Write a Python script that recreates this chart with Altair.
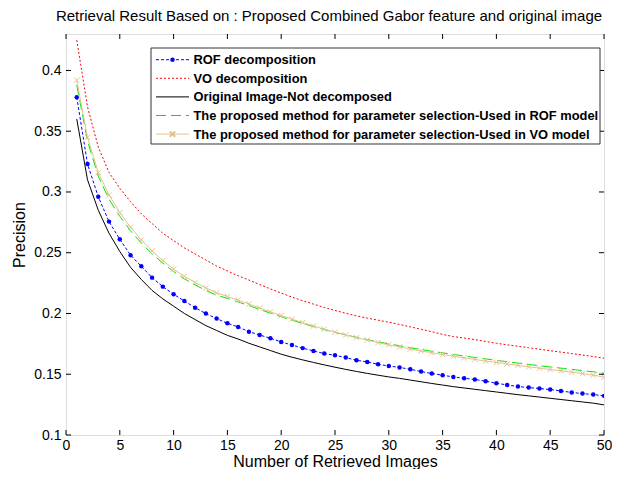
import altair as alt
import pandas as pd

# ---------------- data ----------------
n_images = list(range(1, 51))

rof = [0.378, 0.323, 0.296, 0.2756, 0.261, 0.248, 0.2388, 0.2295, 0.2221, 0.2158,
       0.2103, 0.2048, 0.1999, 0.1958, 0.1919, 0.1889, 0.1850, 0.1823, 0.1796, 0.1766,
       0.1740, 0.1715, 0.1692, 0.1670, 0.1656, 0.1637, 0.1615, 0.1601, 0.1582, 0.1568,
       0.1556, 0.1541, 0.1522, 0.1506, 0.1492, 0.1478, 0.1467, 0.1457, 0.1443, 0.1426,
       0.1412, 0.1399, 0.1390, 0.1383, 0.1374, 0.1363, 0.1350, 0.1341, 0.1333, 0.1322]

vo = [0.425, 0.370, 0.337, 0.316, 0.303, 0.292, 0.282, 0.274, 0.266, 0.260,
      0.254, 0.249, 0.244, 0.239, 0.235, 0.231, 0.2275, 0.2238, 0.2202, 0.2168,
      0.2135, 0.2105, 0.2077, 0.2050, 0.2025, 0.2002, 0.1980, 0.1962, 0.1945, 0.1928,
      0.1910, 0.1890, 0.1870, 0.1850, 0.1828, 0.1810, 0.1798, 0.1785, 0.1770, 0.1755,
      0.1742, 0.1730, 0.1718, 0.1706, 0.1694, 0.1682, 0.1670, 0.1658, 0.1646, 0.1632]

original = [0.360, 0.310, 0.285, 0.266, 0.251, 0.238, 0.228, 0.219, 0.212, 0.206,
            0.200, 0.195, 0.190, 0.186, 0.182, 0.179, 0.1755, 0.1725, 0.1695, 0.1665,
            0.1640, 0.1618, 0.1597, 0.1577, 0.1558, 0.1540, 0.1523, 0.1507, 0.1492, 0.1478,
            0.1466, 0.1452, 0.1438, 0.1424, 0.1411, 0.1398, 0.1387, 0.1376, 0.1365, 0.1354,
            0.1343, 0.1332, 0.1322, 0.1312, 0.1302, 0.1292, 0.1282, 0.1272, 0.1262, 0.1248]

proposed_rof = [0.388, 0.342, 0.313, 0.294, 0.280, 0.268, 0.258, 0.249, 0.2415, 0.2345,
                0.2285, 0.2235, 0.2190, 0.2150, 0.2125, 0.2095, 0.2065, 0.2033, 0.2003, 0.1973,
                0.1945, 0.1918, 0.1892, 0.1868, 0.1845, 0.1824, 0.1804, 0.1785, 0.1767, 0.1750,
                0.1734, 0.1718, 0.1703, 0.1689, 0.1676, 0.1663, 0.1650, 0.1638, 0.1626, 0.1614,
                0.1603, 0.1592, 0.1581, 0.1570, 0.1560, 0.1550, 0.1540, 0.1530, 0.1520, 0.1508]

proposed_vo = [0.392, 0.345, 0.316, 0.2975, 0.283, 0.271, 0.2605, 0.2515, 0.2435, 0.2365,
               0.2305, 0.2255, 0.2210, 0.2170, 0.2140, 0.2110, 0.2078, 0.2045, 0.2013, 0.1983,
               0.1953, 0.1925, 0.1897, 0.1871, 0.1846, 0.1823, 0.1801, 0.1781, 0.1761, 0.1742,
               0.1725, 0.1708, 0.1692, 0.1677, 0.1662, 0.1648, 0.1635, 0.1622, 0.1609, 0.1597,
               0.1585, 0.1573, 0.1561, 0.1550, 0.1539, 0.1528, 0.1517, 0.1505, 0.1493, 0.1475]

series_names = [
    "ROF decomposition",
    "VO decomposition",
    "Original Image-Not decomposed",
    "The proposed method for parameter selection-Used in ROF model",
    "The proposed method for parameter selection-Used in VO model",
]

x_ticks = [0, 5, 10, 15, 20, 25, 30, 35, 40, 45, 50]
y_ticks = [0.1, 0.15, 0.2, 0.25, 0.3, 0.35, 0.4]

title_text = "Retrieval Result Based on : Proposed Combined Gabor feature and original image"
x_title = "Number of Retrieved Images"
y_title = "Precision"

# ---------------- styling ----------------
W, H = 538, 401
FONT = "Liberation Sans"
x_scale = alt.Scale(domain=[0, 50], nice=False, zero=False)
y_scale = alt.Scale(domain=[0.1, 0.43], nice=False, zero=False)

x_axis = alt.Axis(values=x_ticks, ticks=False, domain=False, grid=False,
                  labelFontSize=14, labelFont=FONT, labelColor="#000",
                  labelPadding=3, labelFlush=False, labelOverlap=False,
                  title=x_title, titleFont=FONT, titleFontSize=16,
                  titleFontWeight="normal", titleColor="#000", titlePadding=1)
y_axis = alt.Axis(values=y_ticks, ticks=False, domain=False, grid=False,
                  format="~g", labelFontSize=14, labelFont=FONT, labelColor="#000",
                  labelPadding=5, labelFlush=False, labelOverlap=False,
                  title=y_title, titleFont=FONT, titleFontSize=16,
                  titleFontWeight="normal", titleColor="#000", titlePadding=6)

styles = [
    dict(color="#0000FF", dash=[3, 2], marker="dot"),
    dict(color="#FF0000", dash=[2, 2], marker=None),
    dict(color="#000000", dash=None, marker=None),
    dict(color="#00E600", dash=[10, 5], marker=None),
    dict(color="#E2C38E", dash=None, marker="x"),
]
values_list = [rof, vo, original, proposed_rof, proposed_vo]

X_SHAPE = "M-1,-1L1,1M-1,1L1,-1"

layers = []
draw_order = [2, 0, 1, 3, 4]
for i in draw_order:
    st = styles[i]
    df = pd.DataFrame({"n": n_images, "p": values_list[i]})
    kw = dict(color=st["color"], strokeWidth=1, clip=True)
    if st["dash"]:
        kw["strokeDash"] = st["dash"]
    enc = dict(x=alt.X("n:Q", scale=x_scale, axis=x_axis),
               y=alt.Y("p:Q", scale=y_scale, axis=y_axis))
    layers.append(alt.Chart(df).mark_line(**kw).encode(**enc))
    if st["marker"] == "dot":
        layers.append(alt.Chart(df).mark_point(shape="circle", filled=True, size=20,
                                               color=st["color"], opacity=1, clip=True).encode(**enc))
    elif st["marker"] == "x":
        layers.append(alt.Chart(df).mark_point(shape=X_SHAPE, filled=False, size=28,
                                               color=st["color"], strokeWidth=1, opacity=1,
                                               clip=True).encode(**enc))

# inward ticks on all four sides
xt = pd.DataFrame({"t": x_ticks})
yt = pd.DataFrame({"t": y_ticks})
TL = 5
layers.append(alt.Chart(xt).mark_rule(color="#000", strokeWidth=1).encode(
    x=alt.X("t:Q", scale=x_scale, axis=x_axis), y=alt.value(H), y2=alt.value(H - TL)))
layers.append(alt.Chart(xt).mark_rule(color="#000", strokeWidth=1).encode(
    x=alt.X("t:Q", scale=x_scale, axis=x_axis), y=alt.value(0), y2=alt.value(TL)))
layers.append(alt.Chart(yt).mark_rule(color="#000", strokeWidth=1).encode(
    y=alt.Y("t:Q", scale=y_scale, axis=y_axis), x=alt.value(0), x2=alt.value(TL)))
layers.append(alt.Chart(yt).mark_rule(color="#000", strokeWidth=1).encode(
    y=alt.Y("t:Q", scale=y_scale, axis=y_axis), x=alt.value(W), x2=alt.value(W - TL)))

# legend (manual, drawn in pixel space inside the plot)
one = pd.DataFrame({"k": [0]})
LX0, LX1, LY0, LY1 = 85, 534, 14, 110
layers.append(alt.Chart(one).mark_rect(fill="#fff", stroke="#333", strokeWidth=1).encode(
    x=alt.value(LX0), x2=alt.value(LX1), y=alt.value(LY0), y2=alt.value(LY1)))
for i, name in enumerate(series_names):
    st = styles[i]
    yy = 25.7 + i * 18.6
    kw = dict(color=st["color"], strokeWidth=1)
    if st["dash"]:
        kw["strokeDash"] = st["dash"]
    layers.append(alt.Chart(one).mark_rule(**kw).encode(
        x=alt.value(90), x2=alt.value(123), y=alt.value(yy), y2=alt.value(yy)))
    if st["marker"] == "dot":
        layers.append(alt.Chart(one).mark_point(shape="circle", filled=True, size=20,
                                                color=st["color"], opacity=1).encode(
            x=alt.value(106.5), y=alt.value(yy)))
    elif st["marker"] == "x":
        layers.append(alt.Chart(one).mark_point(shape=X_SHAPE, filled=False, size=28,
                                                color=st["color"], opacity=1).encode(
            x=alt.value(106.5), y=alt.value(yy)))
    layers.append(alt.Chart(one).mark_text(align="left", baseline="middle", font=FONT,
                                           fontSize=12.9, fontWeight="bold", color="#000").encode(
        x=alt.value(127.5), y=alt.value(yy + 0.5), text=alt.value(name)))

chart = alt.layer(*layers).properties(
    width=W, height=H,
    title=alt.TitleParams(title_text, font=FONT, fontSize=15, fontWeight="normal",
                          color="#000", anchor="middle", offset=10, dx=-6),
    autosize=alt.AutoSizeParams(type="none"),
    padding={"left": 58, "top": 26, "right": 8, "bottom": 34},
).configure_view(stroke="#000", strokeWidth=1).configure(background="#fff")

chart.save("out.html", embed_options={"renderer": "svg", "actions": False})
